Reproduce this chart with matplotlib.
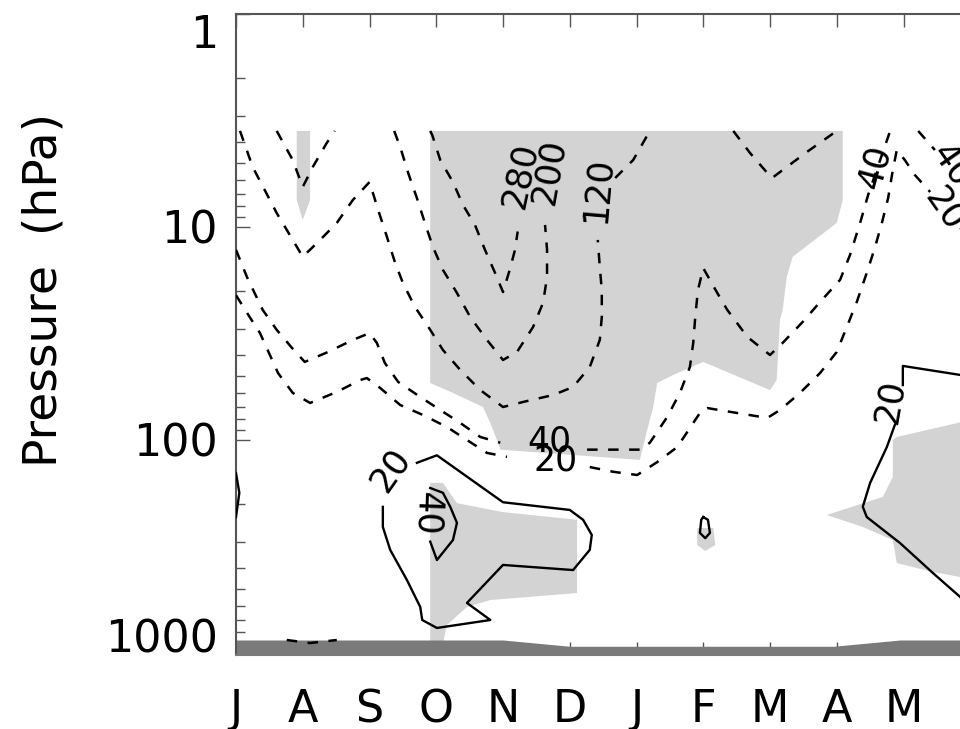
import numpy as np
import matplotlib
matplotlib.use("Agg")
import matplotlib.pyplot as plt
from matplotlib.ticker import LogLocator, NullFormatter

plt.rcParams['font.family'] = ['DejaVu Sans']

nan = np.nan

# month index: 0 = July ... 11 = June
months = ['J', 'A', 'S', 'O', 'N', 'D', 'J', 'F', 'M', 'A', 'M', 'J']
p_ticks = [1, 10, 100, 1000]

# dashed contours (negative anomalies), months / hPa, nan = gap at a label
neg40_m = [0, 0.165, 0.40, 0.61, 0.84, 1.03, 1.38, 1.75, 2.0, 2.11, 2.23, 2.43, 2.76, 3.06, 3.36, 3.66, 3.96, nan,
           5.26, 6.05, 6.20, 6.46, 6.65, 6.80, 6.85, 6.88, 6.92, 7.0, 7.21, 7.36, 7.66, 8.0, 8.19, 8.49, 8.75,
           9.05, 9.20, 9.35, 9.47, 9.65, 9.80, nan, 10.22, 10.47, nan, 10.95, 11.1]
neg40_p = [12.8, 17.2, 24.5, 30.4, 37.0, 43.0, 38.6, 33.9, 31.5, 35.0, 43.5, 53.4, 62.8, 72.3, 83.2, 96.8, 103, nan,
           111, 111, 103, 78.0, 60.1, 45.4, 35.0, 26.5, 19.8, 15.6, 20.4, 24.5, 32.8, 39.9, 35.0, 27.9, 22.5,
           17.7, 13.5, 9.57, 7.07, 4.85, 3.54, nan, 3.54, 4.35, nan, 6.3, 7.0]

neg20_m = [0, 0.165, 0.36, 0.63, 0.85, 1.11, 1.51, 1.86, 1.96, 2.16, 2.46, 2.80, 3.16, 3.46, 3.76, 4.06, nan,
           5.30, 5.65, 6.01, 6.31, 6.61, 6.85, 6.98, 7.06, 7.51, 7.96, 8.15, 8.45, 8.75, 9.0, 9.15, 9.30, 9.45,
           9.57, 9.68, 9.77, 9.84, 9.90, 10.02, 10.17, 10.40, nan, 10.85, 11.07]
neg20_p = [20.9, 25.3, 31.5, 48.5, 60.1, 67.0, 59.5, 52.3, 51.2, 57.0, 68.5, 76.3, 86.9, 100, 115, 120, nan,
           134, 141, 146, 127, 108, 83.2, 72.3, 70.8, 74.7, 78.8, 72.3, 60.1, 48.5, 38.6, 29.5, 22.5, 16.4,
           12.55, 9.47, 7.31, 5.40, 4.35, 4.85, 5.70, 6.85, nan, 10.1, 12.1]

neg120_m = [0.06, 0.25, 0.61, 0.85, 1.0, 1.26, 1.51, 1.75, 2.0, 2.13, 2.26, 2.38, 2.50, 2.68, 2.91, 3.10, 3.36,
            3.66, 4.0, 4.30, 4.75, 5.05, 5.30, 5.45, 5.48, 5.48, 5.45, 5.42, nan, 5.68, 5.95, 6.20]
neg120_p = [3.54, 5.23, 8.60, 11.5, 13.8, 11.5, 9.57, 7.47, 6.15, 8.32, 11.1, 14.6, 18.3, 23.7, 30.4, 37.8, 46.9,
            58.3, 70.0, 66.3, 61.5, 56.4, 45.4, 33.9, 26.5, 19.8, 15.4, 11.5, nan, 5.89, 4.85, 3.54]
neg120b_m = [7.45, 7.70, 7.96, 8.03, 8.25, 8.55, 8.85, 9.0]
neg120b_p = [3.54, 4.49, 5.58, 5.89, 5.23, 4.45, 3.82, 3.54]

neg200_m = [2.37, 2.46, 2.58, 2.71, 2.83, 2.95, 3.10, 3.31, 3.51, 3.76, 4.0, 4.21, 4.45, 4.60, 4.66, 4.66, 4.63]
neg200_p = [3.54, 4.21, 5.58, 7.31, 9.57, 12.4, 15.9, 20.4, 26.5, 33.9, 42.1, 38.6, 29.5, 22.7, 17.2, 12.8, 9.78]
neg200b_m = [0.61, 0.85, 1.0, 1.15, 1.36, 1.48]
neg200b_p = [3.54, 4.85, 6.49, 5.23, 4.03, 3.54]

neg280_m = [2.91, 2.94, 3.06, 3.25, 3.40, 3.58, 3.73, 3.88, 4.0, 4.10, 4.18, 4.22]
neg280_p = [3.54, 3.70, 4.85, 6.15, 7.88, 9.78, 12.8, 16.4, 20.2, 15.9, 12.8, 10.5]

negsfc_m = [0.76, 1.11, 1.51]
negsfc_p = [869, 898, 869]

# solid contours (positive anomalies)
pos20_m = [2.71, 3.01, 4.0, 5.0, 5.20, 5.33, 5.30, 5.05, 4.0, 3.46, 3.81, 3.01, 2.79, 2.76, 2.56, 2.31, 2.20, 2.20]
pos20_p = [128, 118, 196, 213, 237, 279, 328, 408, 386, 582, 700, 763, 700, 608, 454, 328, 256, 206]
pos40_m = [2.91, 3.10, 3.21, 3.31, 3.25, 3.01, 2.91]
pos40_p = [168, 177, 206, 245, 295, 366, 300]
pos20f_m = [7.0, 7.07, 7.10, 7.03, 6.95, 6.97, 7.0]
pos20f_p = [230, 237, 273, 289, 273, 237, 230]
pos20r_m = [11.15, 10.85, 9.99, 9.99, nan, 9.87, 9.75, 9.50, 9.39, 9.45, 9.95, 10.44, 10.85, 11.15]
pos20r_p = [51, 49.5, 44.9, 55.2, nan, 85.0, 108, 159, 206, 230, 305, 421, 546, 680]
pos20l_m = [0.0, 0.05, 0.0]
pos20l_p = [143, 177, 230]

# significance shading (light grey)
sig1_m = [2.91, 9.09, 9.09, 9.0, 8.34, 8.25, 8.19, 8.15, 8.10, 8.0, 7.0, 6.55, 6.31, 6.25, 6.16, 6.05,
          3.96, 3.91, 3.81, 3.70, 3.25, 2.91]
sig1_p = [3.54, 3.54, 7.47, 9.57, 13.8, 17.2, 24.5, 27.3, 52.3, 58.3, 43.0, 49.5, 54.0, 70.0, 89.8, 124,
          111, 100, 83.2, 70.0, 60.1, 54.0]
sig2_m = [0.91, 1.11, 1.11, 1.0, 0.91]
sig2_p = [3.54, 3.54, 7.47, 9.27, 7.47]
sig3_m = [2.91, 3.10, 3.31, 4.0, 5.11, 5.11, 3.81, 3.46, 3.16, 3.10, 2.91]
sig3_p = [159, 159, 198, 218, 237, 523, 564, 608, 739, 900, 900]
sig4_m = [6.91, 7.15, 7.18, 7.03, 6.91]
sig4_p = [259, 259, 311, 332, 311]
sig5_m = [9.90, 11.2, 11.2, 10.44, 9.90, 9.84, 9.39, 8.85, 9.69, 9.84, 9.84]
sig5_p = [96.8, 78, 460, 417, 378, 295, 256, 225, 185, 149, 100]

# surface pressure (dark grey ground)
sfc_m = [0, 4.0, 5.0, 8.95, 9.95, 11.5]
sfc_p = [869, 869, 930, 930, 869, 869]
p_bottom = 1022

# contour labels
lab_text = ['40', '20', '120', '200', '280', '40', '40', '20', '20', '40', '20']
lab_m = [4.70, 4.78, 5.42, 4.69, 4.25, 9.57, 10.72, 10.62, 2.31, 2.86, 9.80]
lab_p = [102, 125, 6.7, 5.5, 5.7, 5.23, 5.1, 8.2, 138, 222, 66]
lab_rot = [0, 0, 85, 80, 78, 75, -55, -55, 55, -92, 80]

fig = plt.figure(figsize=(9.6, 7.29), dpi=100)
ax = fig.add_axes([236 / 960, 1 - 655 / 729, 11 * 66.75 / 960, 641 / 729])
ax.set_yscale('log')

light = '#d3d3d3'
for gm, gp in [(sig1_m, sig1_p), (sig2_m, sig2_p), (sig3_m, sig3_p), (sig4_m, sig4_p), (sig5_m, sig5_p)]:
    ax.fill(gm, gp, color=light, lw=0, zorder=1)

ax.fill_between(sfc_m, sfc_p, p_bottom, color='#7a7a7a', lw=0, zorder=2)

dash = dict(color='black', lw=1.8, linestyle=(0, (4.2, 4.2)), zorder=3)
for cm, cp in [(neg40_m, neg40_p), (neg20_m, neg20_p), (neg120_m, neg120_p), (neg120b_m, neg120b_p),
               (neg200_m, neg200_p), (neg200b_m, neg200b_p), (neg280_m, neg280_p), (negsfc_m, negsfc_p)]:
    ax.plot(cm, cp, **dash)

solid = dict(color='black', lw=1.7, zorder=3)
for cm, cp in [(pos20_m, pos20_p), (pos40_m, pos40_p), (pos20f_m, pos20f_p), (pos20r_m, pos20r_p),
               (pos20l_m, pos20l_p)]:
    ax.plot(cm, cp, **solid)

for t, m, p, r in zip(lab_text, lab_m, lab_p, lab_rot):
    ax.text(m, p, t, rotation=r, ha='center', va='center', rotation_mode='anchor',
            fontsize=25, zorder=5, clip_on=False)

ax.set_xlim(0, 11)
ax.set_ylim(p_bottom, 1)

ax.set_xticks(range(len(months)))
ax.set_xticklabels(months)
ax.tick_params(axis='x', which='major', direction='in', top=True, bottom=True, length=9.5,
               width=1.0, color='#555555', labelsize=32, pad=24)

ax.set_yticks(p_ticks)
ax.set_yticklabels([str(v) for v in p_ticks])
ax.yaxis.set_minor_locator(LogLocator(base=10, subs=np.arange(2, 10)))
ax.yaxis.set_minor_formatter(NullFormatter())
ax.tick_params(axis='y', which='major', direction='in', left=True, right=False, length=10,
               width=1.0, color='#555555', labelsize=32, pad=13)
ax.tick_params(axis='y', which='minor', direction='in', left=True, right=False, length=6.5,
               width=1.0, color='#555555')

yt = ax.yaxis.get_major_ticks()
yt[0].label1.set_va('top')
yt[-1].label1.set_va('baseline')

for s in ax.spines.values():
    s.set_color('#555555')
    s.set_linewidth(1.5)
ax.spines['bottom'].set_color('#7a7a7a')

fig.text(44 / 960, 1 - 290 / 729, 'Pressure  (hPa)', rotation=90, ha='center', va='center',
         fontsize=34)

fig.savefig('out.png', dpi=100)
